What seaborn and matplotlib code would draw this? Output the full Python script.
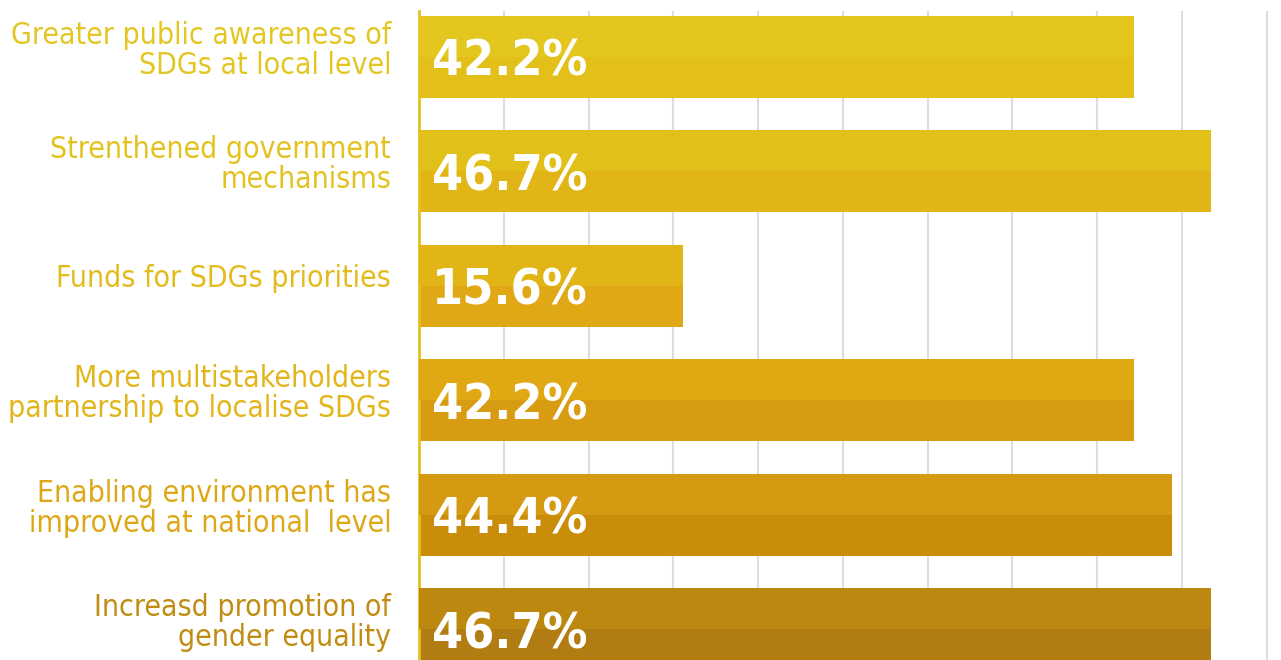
import pandas as pd
import seaborn as sns
import matplotlib.pyplot as plt
from matplotlib.patches import Rectangle
from matplotlib import font_manager, transforms

# Dados
categorias = [
    "Greater public awareness of\nSDGs at local level",
    "Strenthened government\nmechanisms",
    "Funds for SDGs priorities",
    "More multistakeholders\npartnership to localise SDGs",
    "Enabling environment has\nimproved at national  level",
    "Increasd promotion of\ngender equality",
]
valores = [42.2, 46.7, 15.6, 42.2, 44.4, 46.7]
rotulos = ["42.2%", "46.7%", "15.6%", "42.2%", "44.4%", "46.7%"]

# Cores (metade de cima mais clara, metade de baixo mais escura)
cor_topo = ["#E3C71E", "#E2C01A", "#E0B515", "#E0A914", "#D59A11", "#BD880F"]
cor_base = ["#E3BF1A", "#E0B515", "#E0A814", "#D89C13", "#C98D0A", "#B17C11"]
cor_texto = ["#E3C622", "#E3C21F", "#E3BB1C", "#E2B51A", "#DDA716", "#C08D12"]

df = pd.DataFrame({"categoria": categorias, "valor": valores})

# procurar uma fonte condensada, se houver
fonte, largura = "Roboto", "normal"
for f in font_manager.fontManager.ttflist:
    if "Condensed" in f.name or "Narrow" in f.name:
        fonte, largura = f.name, "normal"
        break
    if f.stretch in ("condensed", "semi-condensed") and f.name in ("DejaVu Sans", "Roboto", "Open Sans", "Noto Sans"):
        fonte, largura = f.name, f.stretch
        break

sns.set_style("white")
plt.rcParams["font.family"] = [fonte, "DejaVu Sans"]
plt.rcParams["font.stretch"] = largura

fig = plt.figure(figsize=(12.81, 6.60), dpi=100)
ax = fig.add_axes([419 / 1281, 0, 1 - 419 / 1281, 1 - 11 / 660])

sns.barplot(data=df, x="valor", y="categoria", hue="categoria", palette=cor_base,
            saturation=1, legend=False, width=0.716, ax=ax, zorder=2)

# metade superior de cada barra
for patch, cor in zip(ax.patches, cor_topo):
    x, y = patch.get_x(), patch.get_y()
    w, h = patch.get_width(), patch.get_height()
    patch.set_linewidth(0)
    ax.add_patch(Rectangle((x, y), w, h / 2, color=cor, lw=0, zorder=3))

# rótulos de valor
textos = []
for i, txt in enumerate(rotulos):
    t = ax.text(0.75, i, txt, color="white", fontsize=43, fontweight="bold",
                va="center_baseline", ha="left", zorder=4)
    textos.append(t)

ax.set_xlim(0, 862 / 16.95)
ax.set_ylim(5.27, -0.40)
ax.set_xticks([5 * k for k in range(1, 11)])
ax.xaxis.grid(True, color="#DDDDDD", linewidth=1.5, zorder=0)
ax.set_xticklabels([])
ax.tick_params(axis="x", length=0)
ax.tick_params(axis="y", length=0, pad=20)
ax.set_xlabel("")
ax.set_ylabel("")

for lado in ["top", "right", "bottom"]:
    ax.spines[lado].set_visible(False)
ax.spines["left"].set_color("#E2C21C")
ax.spines["left"].set_linewidth(2)

ylabels = ax.get_yticklabels()
for lbl, cor in zip(ylabels, cor_texto):
    lbl.set_color(cor)
    lbl.set_fontsize(24)
    lbl.set_linespacing(1.05)
    lbl.set_multialignment("right")

# ajustar tamanhos pela largura vista na referência
fig.canvas.draw()
r = fig.canvas.get_renderer()
k_lbl = 381 / ylabels[0].get_window_extent(r).width
k_val = 156 / textos[0].get_window_extent(r).width
desloc = transforms.ScaledTranslation(0, 0.10, fig.dpi_scale_trans)
for lbl in ylabels:
    lbl.set_fontsize(24 * k_lbl)
    lbl.set_transform(lbl.get_transform() + desloc)
for t in textos:
    t.set_fontsize(43 * k_val)

plt.savefig("out.png", dpi=100)
